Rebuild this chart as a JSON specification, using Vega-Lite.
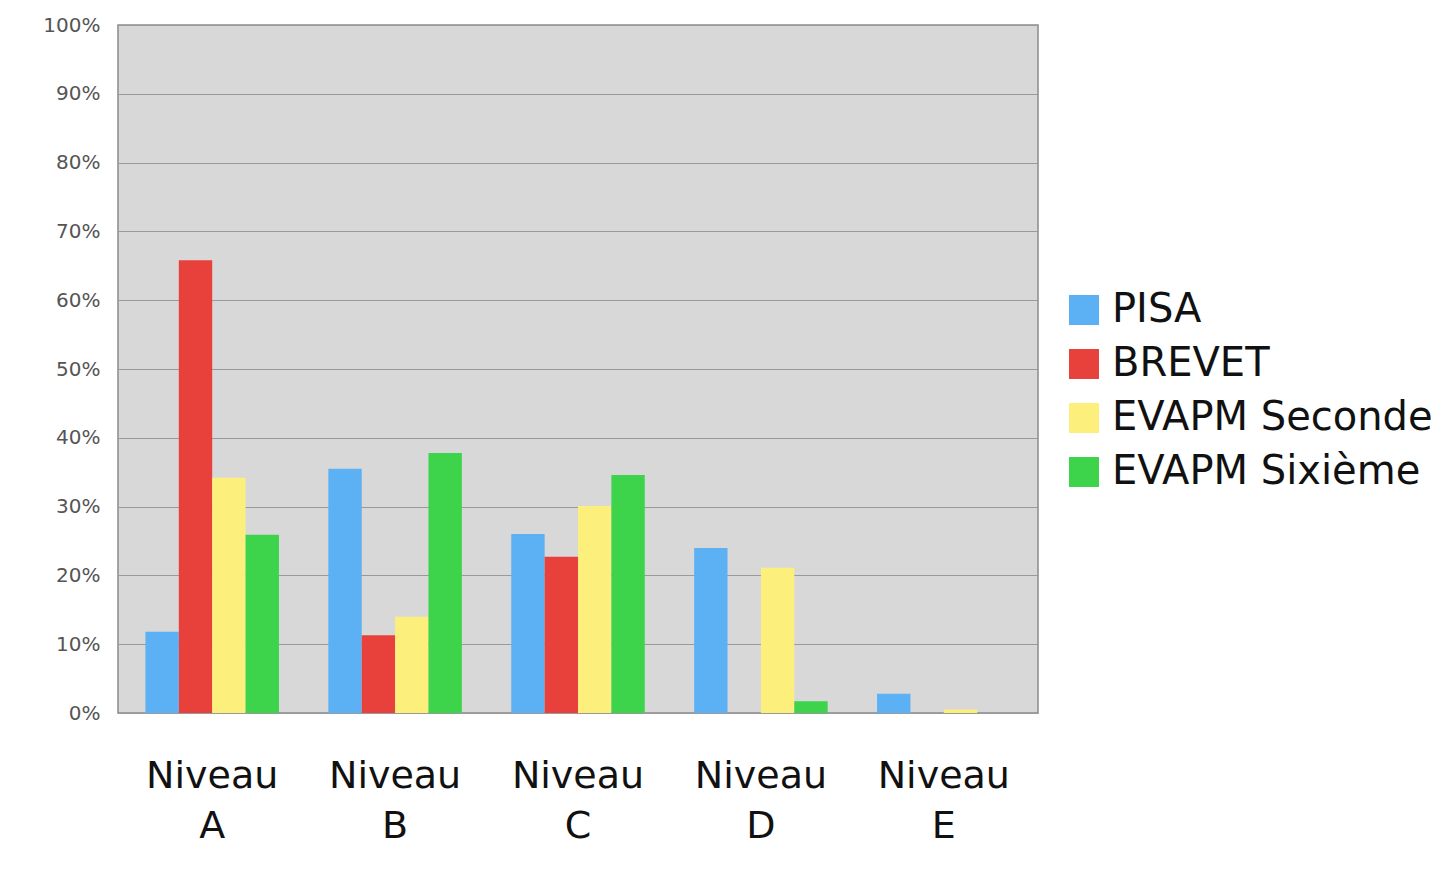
{
  "$schema": "https://vega.github.io/schema/vega-lite/v6.json",
  "autosize": "none",
  "width": 920,
  "height": 688,
  "padding": {"left": 118, "top": 25, "right": 406, "bottom": 177},
  "background": "white",
  "config": {
    "font": "DejaVu Sans",
    "view": {"fill": "#d8d8d8", "stroke": "#8a8a8a", "strokeWidth": 1.5}
  },
  "data": {
    "values": [
      {"niveau": "Niveau A", "serie": "PISA", "valeur": 0.118},
      {"niveau": "Niveau A", "serie": "BREVET", "valeur": 0.658},
      {"niveau": "Niveau A", "serie": "EVAPM Seconde", "valeur": 0.342},
      {"niveau": "Niveau A", "serie": "EVAPM Sixième", "valeur": 0.259},
      {"niveau": "Niveau B", "serie": "PISA", "valeur": 0.355},
      {"niveau": "Niveau B", "serie": "BREVET", "valeur": 0.113},
      {"niveau": "Niveau B", "serie": "EVAPM Seconde", "valeur": 0.14},
      {"niveau": "Niveau B", "serie": "EVAPM Sixième", "valeur": 0.378},
      {"niveau": "Niveau C", "serie": "PISA", "valeur": 0.26},
      {"niveau": "Niveau C", "serie": "BREVET", "valeur": 0.227},
      {"niveau": "Niveau C", "serie": "EVAPM Seconde", "valeur": 0.301},
      {"niveau": "Niveau C", "serie": "EVAPM Sixième", "valeur": 0.346},
      {"niveau": "Niveau D", "serie": "PISA", "valeur": 0.24},
      {"niveau": "Niveau D", "serie": "BREVET", "valeur": 0},
      {"niveau": "Niveau D", "serie": "EVAPM Seconde", "valeur": 0.211},
      {"niveau": "Niveau D", "serie": "EVAPM Sixième", "valeur": 0.017},
      {"niveau": "Niveau E", "serie": "PISA", "valeur": 0.028},
      {"niveau": "Niveau E", "serie": "BREVET", "valeur": 0},
      {"niveau": "Niveau E", "serie": "EVAPM Seconde", "valeur": 0.005},
      {"niveau": "Niveau E", "serie": "EVAPM Sixième", "valeur": 0}
    ]
  },
  "mark": {"type": "bar"},
  "encoding": {
    "x": {
      "field": "niveau",
      "type": "nominal",
      "scale": {"paddingInner": 0.27, "paddingOuter": 0.15},
      "axis": {
        "title": null,
        "labelAngle": 0,
        "labelFontSize": 38,
        "labelColor": "#111",
        "labelLineHeight": 50,
        "labelPadding": 44,
        "ticks": false,
        "domain": false,
        "labelExpr": "split(datum.label, ' ')"
      }
    },
    "xOffset": {
      "field": "serie",
      "type": "nominal",
      "sort": ["PISA", "BREVET", "EVAPM Seconde", "EVAPM Sixième"],
      "scale": {"paddingInner": 0, "paddingOuter": 0}
    },
    "y": {
      "field": "valeur",
      "type": "quantitative",
      "scale": {"domain": [0, 1]},
      "axis": {
        "title": null,
        "format": ".0%",
        "values": [0, 0.1, 0.2, 0.3, 0.4, 0.5, 0.6, 0.7, 0.8, 0.9, 1],
        "labelFontSize": 20,
        "labelColor": "#555",
        "labelPadding": 18,
        "ticks": false,
        "domain": false,
        "grid": true,
        "gridColor": "#9a9a9a",
        "gridWidth": 1.2
      }
    },
    "color": {
      "field": "serie",
      "type": "nominal",
      "sort": ["PISA", "BREVET", "EVAPM Seconde", "EVAPM Sixième"],
      "scale": {
        "domain": ["PISA", "BREVET", "EVAPM Seconde", "EVAPM Sixième"],
        "range": ["#5cb0f4", "#e8413c", "#fcef7c", "#3dd44c"]
      },
      "legend": {
        "title": null,
        "orient": "none",
        "legendX": 946,
        "legendY": 265,
        "symbolType": "square",
        "symbolSize": 900,
        "symbolStrokeWidth": 0,
        "labelFontSize": 40,
        "labelColor": "#111",
        "labelOffset": 8,
        "rowPadding": 14,
        "labelLimit": 500
      }
    }
  }
}
